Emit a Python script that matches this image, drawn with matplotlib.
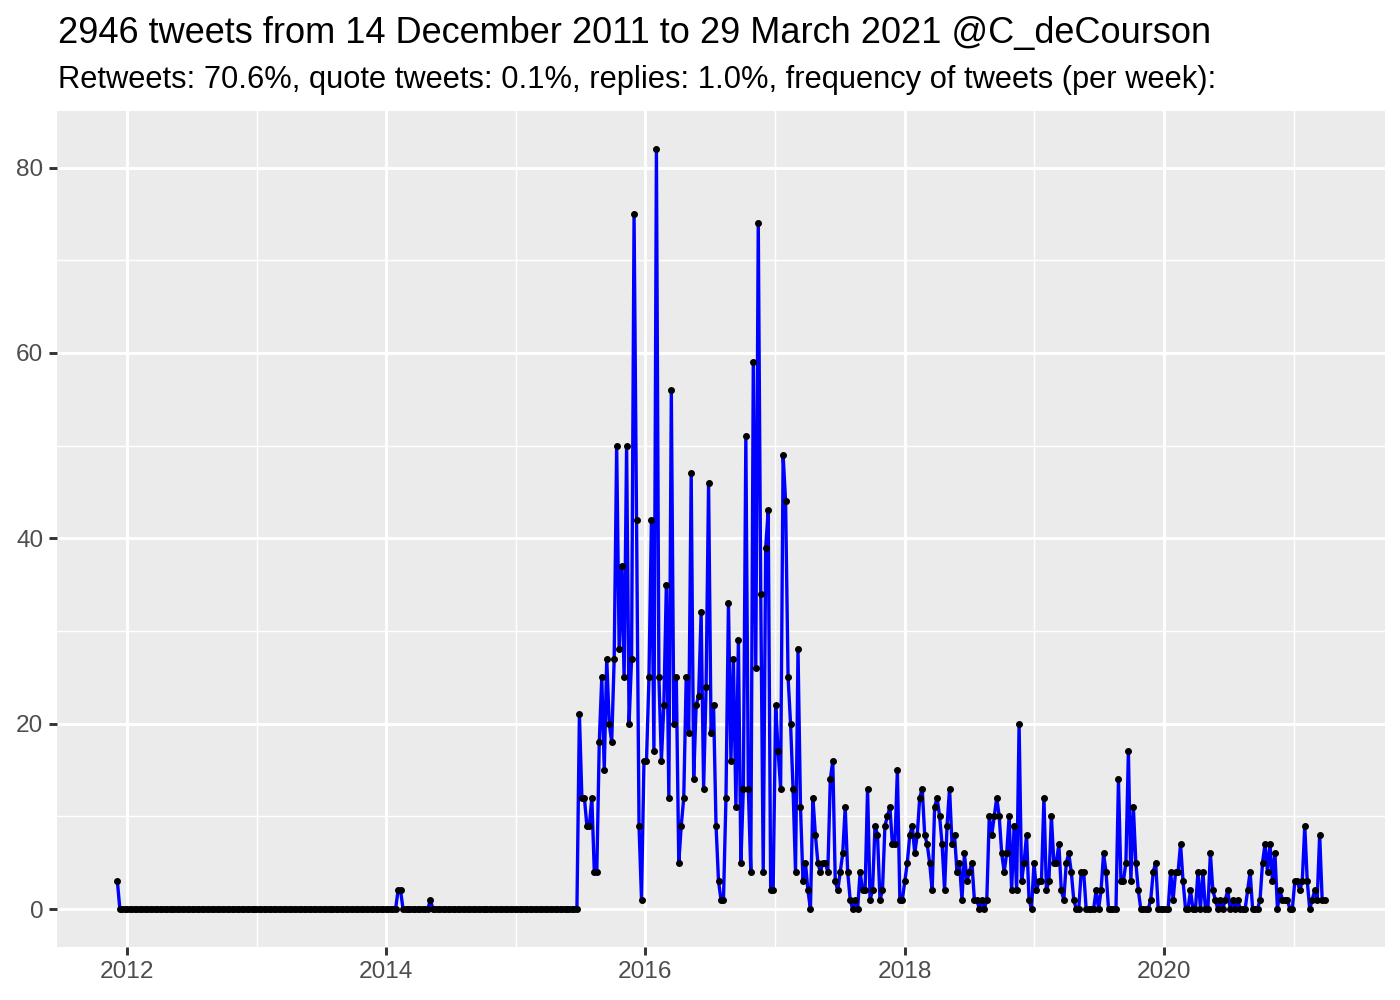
import datetime as dt
import numpy as np
import pandas as pd
import matplotlib
matplotlib.use("Agg")
import matplotlib.pyplot as plt
import matplotlib.dates as mdates
from matplotlib.ticker import FixedLocator

title = "2946 tweets from 14 December 2011 to 29 March 2021 @C_deCourson"
subtitle = "Retweets: 70.6%, quote tweets: 0.1%, replies: 1.0%, frequency of tweets (per week):"
end_date = "2021-03-29"

# weekly tweet counts (oldest first)
counts_2011_2014 = [
    3,
    0, 0, 0, 0, 0, 0, 0, 0, 0, 0, 0, 0, 0, 0, 0, 0, 0, 0, 0, 0, 0, 0, 0, 0, 0, 0, 0, 0,
    0, 0, 0, 0, 0, 0, 0, 0, 0, 0, 0, 0, 0, 0, 0, 0, 0, 0, 0, 0, 0, 0, 0, 0, 0, 0, 0, 0,
    0, 0, 0, 0, 0, 0, 0, 0, 0, 0, 0, 0, 0, 0, 0, 0, 0, 0, 0, 0, 0, 0, 0, 0, 0, 0, 0, 0,
    0, 0, 0, 0, 0, 0, 0, 0, 0, 0, 0, 0, 0, 0, 0, 0, 0, 0, 0, 0, 0, 0, 0, 0, 0, 0, 0, 0,
    2, 2,
    0, 0, 0, 0, 0, 0, 0, 0, 0, 0, 0,
    1,
]
counts_2014_2015 = [
    0, 0, 0, 0, 0, 0, 0, 0, 0, 0, 0, 0, 0, 0, 0, 0, 0, 0, 0, 0, 0, 0, 0, 0, 0, 0, 0, 0,
    0, 0, 0, 0, 0, 0, 0, 0, 0, 0, 0, 0, 0, 0, 0, 0, 0, 0, 0, 0, 0, 0, 0, 0, 0, 0, 0, 0,
    0, 0, 0,
]
counts_2015_2016 = [
    21, 12, 12, 9, 9, 12, 4, 4, 18, 25, 15, 27, 20, 18, 27, 50, 28, 37, 25, 50, 20, 27, 75,
    42, 9, 1, 16, 16, 25, 42, 17, 82,
    25, 16, 22, 35, 12, 56, 20, 25, 5, 9, 12, 25, 19, 47, 14, 22, 23, 32, 13, 24, 46, 19,
    22, 9, 3, 1, 1, 12, 33, 16, 27, 11, 29, 5, 13, 51, 13, 4, 59, 26, 74,
]
counts_2017 = [
    34, 4, 39, 43, 2, 2, 22, 17, 13, 49,
    44, 25, 20, 13, 4, 28, 11, 3, 5, 2, 0, 12, 8, 5, 4, 5, 5, 4, 14, 16,
    3, 2, 4, 6, 11, 4, 1, 0, 1, 0, 4, 2, 2, 13, 1, 2, 9, 8, 1, 2, 9, 10, 11, 7, 7, 15,
]
counts_2018_2019 = [
    1, 1, 3, 5, 8, 9, 6, 8, 12, 13,
    8, 7, 5, 2, 11, 12, 10, 7, 2, 9, 13, 7, 8, 4, 5, 1, 6, 3, 4, 5, 1, 1, 0, 1, 0, 1,
    10, 8, 10, 12, 10, 6, 4, 6, 10, 2, 9, 2, 20,
    3, 5, 8, 1, 0, 5, 2, 3, 3, 12, 2, 3, 10, 5, 5, 7, 2, 1, 5, 6, 4, 1, 0, 0, 4, 4,
    0, 0, 0, 0, 2, 0, 2, 6, 4, 0, 0, 0, 0,
]
counts_2020_2021 = [
    14, 3, 3, 5, 17, 3, 11, 5, 2, 0, 0, 0, 0, 1, 4, 5, 0, 0, 0, 0, 0, 4, 1, 4, 4, 7, 3,
    0, 0, 2, 0, 0, 4, 0, 4, 0, 0, 6,
    2, 1, 0, 1, 0, 1, 2, 0, 1, 0, 1, 0, 0, 0, 2, 4, 0, 0, 0, 1, 5, 7, 4, 7, 3, 6, 0, 2,
    1, 1, 1, 0, 0, 3, 3, 2, 3, 9, 3, 0, 1, 2, 1, 8, 1, 1,
]

counts = (counts_2011_2014 + counts_2014_2015 + counts_2015_2016 + counts_2017
          + counts_2018_2019 + counts_2020_2021)
dates = pd.date_range(end=end_date, periods=len(counts), freq="7D")

plt.rcParams['font.family'] = ['Liberation Sans', 'DejaVu Sans']

fig = plt.figure(figsize=(14, 10), dpi=100)
ax = fig.add_axes([57 / 1400, 53 / 1000, 1328 / 1400, 836 / 1000])
ax.set_facecolor('#EBEBEB')
for s in ax.spines.values():
    s.set_visible(False)

ax.plot(dates, counts, color='#0000FF', lw=2.4, zorder=3, solid_joinstyle='round')
ax.plot(dates, counts, linestyle='none', marker='o', color='black', ms=4.0, zorder=4)

span = dates[-1] - dates[0]
ax.set_xlim(dates[0] - 0.05 * span, dates[-1] + 0.05 * span)
ymax = max(counts)
ax.set_ylim(-0.05 * ymax, 1.05 * ymax)

ax.xaxis.set_major_locator(mdates.YearLocator(2))
ax.xaxis.set_major_formatter(mdates.DateFormatter('%Y'))
minor_years = [dt.datetime(y, 1, 1) for y in range(2011, 2023, 2)]
ax.xaxis.set_minor_locator(FixedLocator(mdates.date2num(minor_years)))
ax.set_yticks([0, 20, 40, 60, 80])
ax.set_yticks([10, 30, 50, 70], minor=True)

ax.grid(which='major', color='white', lw=2.1)
ax.grid(which='minor', color='white', lw=1.05)
ax.set_axisbelow(True)

ax.tick_params(which='major', length=5.5, width=2.1, color='#333333',
               labelcolor='#4D4D4D', labelsize=17.6, pad=4.4)
ax.tick_params(which='minor', length=0)

fig.text(58 / 1400, 1 - 43 / 1000, title, fontsize=26.05, va='baseline', ha='left')
fig.text(58 / 1400, 1 - 88 / 1000, subtitle, fontsize=22.25, va='baseline', ha='left')

fig.savefig('out.png', dpi=100)
